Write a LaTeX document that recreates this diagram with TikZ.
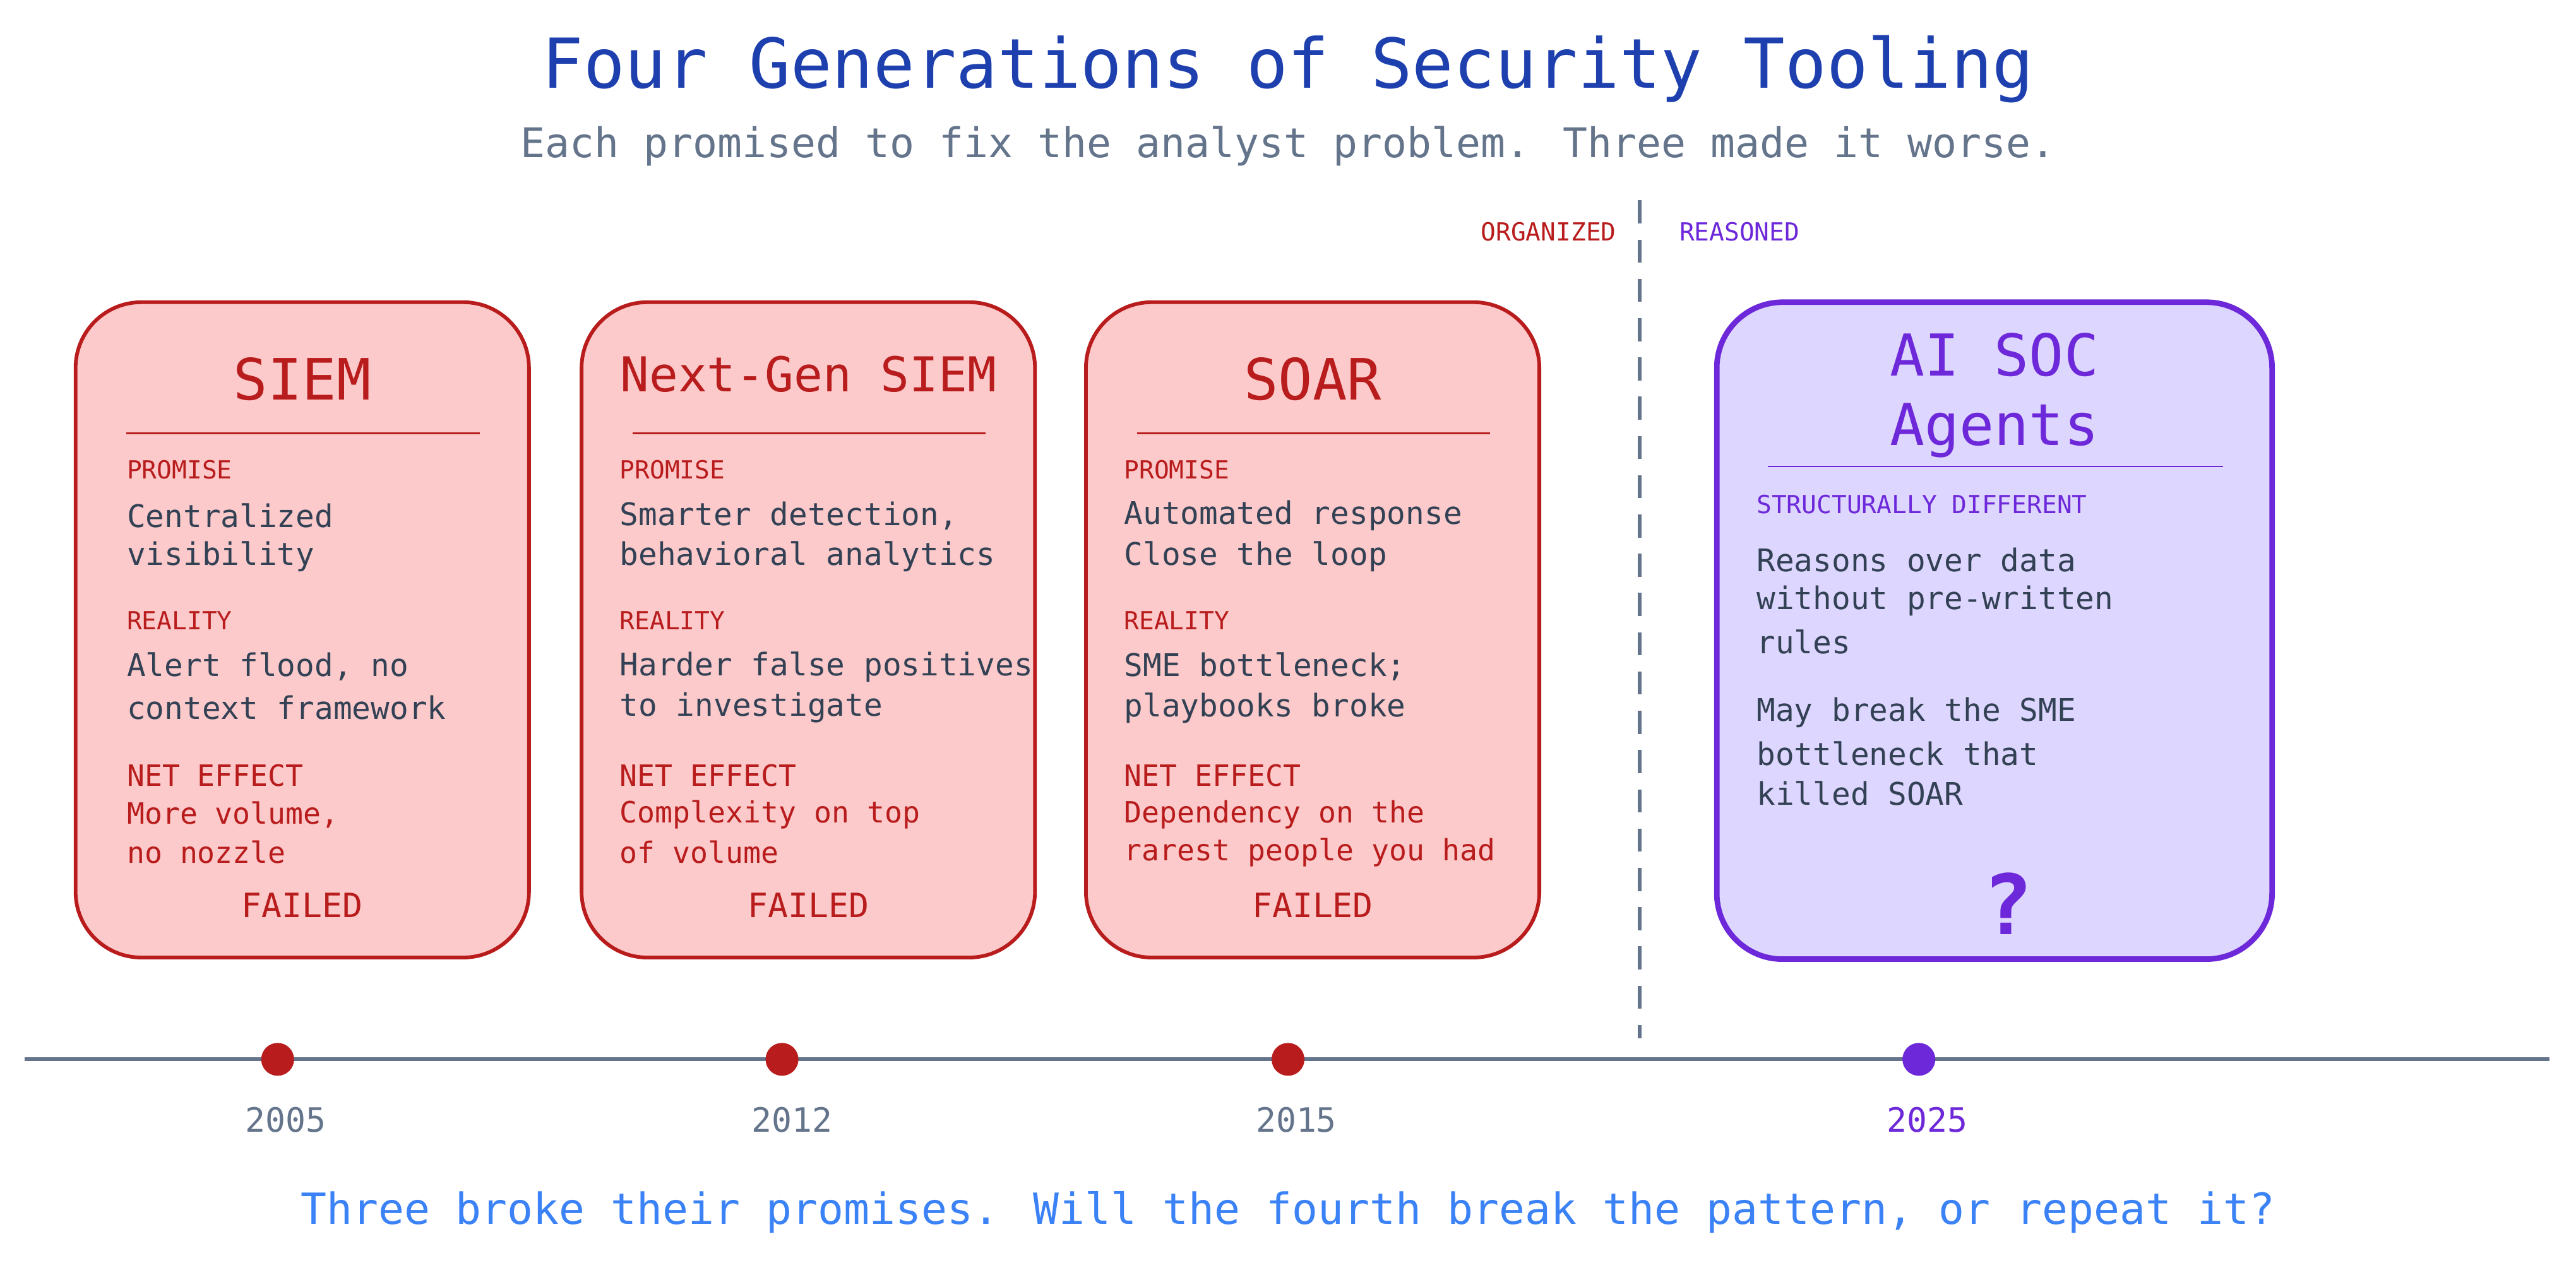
\documentclass[tikz,border=0pt]{standalone}
\usepackage{fontspec}
\setmainfont{DejaVu Sans Mono}
\begin{document}
\definecolor{rd}{HTML}{B91C1C}\definecolor{rdf}{HTML}{FCCACA}
\definecolor{pu}{HTML}{6D28D9}\definecolor{puf}{HTML}{DDD6FE}
\definecolor{sl}{HTML}{64748B}\definecolor{tx}{HTML}{334155}
\definecolor{ti}{HTML}{1E40AF}\definecolor{bl}{HTML}{3B82F6}
\begin{tikzpicture}[x=0.025cm,y=-0.025cm,
 rbox/.style={draw=rd,fill=rdf,line width=1.6pt,rounded corners=1cm},
 pbox/.style={draw=pu,fill=puf,line width=2.4pt,rounded corners=1cm},
 lab/.style={anchor=west,inner sep=0,text=rd,font=\fontsize{10.8}{12}\selectfont},
 body/.style={anchor=west,inner sep=0,text=tx,font=\fontsize{13.5}{18}\selectfont},
 net/.style={anchor=west,inner sep=0,text=rd,font=\fontsize{12.7}{16}\selectfont},
 yr/.style={text=sl,font=\fontsize{14.5}{16}\selectfont},
 dot/.style={circle,fill=rd,minimum size=0.5cm,inner sep=0}]
\useasboundingbox (0,0) rectangle (1568,776);
\node (title) at (784,42) {\fontsize{29.8}{32}\selectfont\color{ti}Four Generations of Security Tooling};
\node (sub) at (784,89) {\fontsize{17.7}{20}\selectfont\color{sl}Each promised to fix the analyst problem. Three made it worse.};
% boxes
\foreach \n/\x in {a/46,b/354,c/661}{
 \draw[rbox] (\x,184) rectangle ++(276,399);
 \draw[rd,line width=0.8pt] (\x+31,264) -- (\x+246,264);}
\draw[pbox] (1045,184) rectangle (1383,584);
\draw[pu,line width=0.8pt] (1076,284) -- (1353,284);
% headings
\node[text=rd,font=\fontsize{24.7}{26}\selectfont] (h1) at (184,231) {SIEM};
\node[text=rd,font=\fontsize{20.8}{24}\selectfont] (h2) at (492,228) {Next-Gen SIEM};
\node[text=rd,font=\fontsize{24.7}{26}\selectfont] (h3) at (799,231) {SOAR};
\node[text=pu,font=\fontsize{25}{27}\selectfont] (h4a) at (1214,216) {AI SOC};
\node[text=pu,font=\fontsize{25}{27}\selectfont] (h4b) at (1214,262) {Agents};
% box 1
\node[lab] (p1) at (77,286) {PROMISE};
\node[body] (p1a) at (77,314) {Centralized}; \node[body] (p1b) at (77,339) {visibility};
\node[lab] (r1) at (77,378) {REALITY};
\node[body] (r1a) at (77,406) {Alert flood, no}; \node[body] (r1b) at (77,431) {context framework};
\node[net] (n1) at (77,472) {NET EFFECT};
\node[net] (n1a) at (77,496) {More volume,}; \node[net] (n1b) at (77,519) {no nozzle};
\node[text=rd,font=\fontsize{14.5}{16}\selectfont] (f1) at (184,551) {FAILED};
% box 2
\node[lab] (p2) at (377,286) {PROMISE};
\node[body] (p2a) at (377,314) {Smarter detection,}; \node[body] (p2b) at (377,339) {behavioral analytics};
\node[lab] (r2) at (377,378) {REALITY};
\node[body] (r2a) at (377,406) {Harder false positives}; \node[body] (r2b) at (377,431) {to investigate};
\node[net] (n2) at (377,472) {NET EFFECT};
\node[net] (n2a) at (377,496) {Complexity on top}; \node[net] (n2b) at (377,519) {of volume};
\node[text=rd,font=\fontsize{14.5}{16}\selectfont] (f2) at (492,551) {FAILED};
% box 3
\node[lab] (p3) at (684,286) {PROMISE};
\node[body] (p3a) at (684,314) {Automated response}; \node[body] (p3b) at (684,339) {Close the loop};
\node[lab] (r3) at (684,378) {REALITY};
\node[body] (r3a) at (684,406) {SME bottleneck;}; \node[body] (r3b) at (684,431) {playbooks broke};
\node[net] (n3) at (684,472) {NET EFFECT};
\node[net] (n3a) at (684,496) {Dependency on the}; \node[net] (n3b) at (684,519) {rarest people you had};
\node[text=rd,font=\fontsize{14.5}{16}\selectfont] (f3) at (799,551) {FAILED};
% box 4
\node[lab,text=pu] (s4) at (1069,307) {STRUCTURALLY DIFFERENT};
\node[body] (s4a) at (1069,341) {Reasons over data}; \node[body] (s4b) at (1069,366) {without pre-written}; \node[body] (s4c) at (1069,391) {rules};
\node[body] (s4d) at (1069,434) {May break the SME}; \node[body] (s4e) at (1069,459) {bottleneck that}; \node[body] (s4f) at (1069,483) {killed SOAR};
\node[text=pu,font=\fontsize{36}{40}\bfseries\selectfont] (q) at (1222,550) {?};
% divider
\draw[sl,line width=1.6pt,dash pattern=on 10pt off 7pt] (998,122) -- (998,632);
\node[lab,anchor=east] (org) at (984,141) {ORGANIZED};
\node[lab,text=pu] (rea) at (1022,141) {REASONED};
% timeline
\coordinate (tl) at (15,645); \coordinate (tr) at (1552,645);
\draw[sl,line width=1.6pt] (tl) -- (tr);
\node[dot] (d1) at (169,645) {}; \node[dot] (d2) at (476,645) {}; \node[dot] (d3) at (784,645) {};
\node[dot,fill=pu] (d4) at (1168,645) {};
\node[yr] (y1) at (174,682) {2005}; \node[yr] (y2) at (482,682) {2012}; \node[yr] (y3) at (789,682) {2015};
\node[yr,text=pu] (y4) at (1173,682) {2025};
\node[text=bl,font=\fontsize{18.6}{20}\selectfont] (bot) at (784,738) {Three broke their promises. Will the fourth break the pattern, or repeat it?};
\end{tikzpicture}
\end{document}
